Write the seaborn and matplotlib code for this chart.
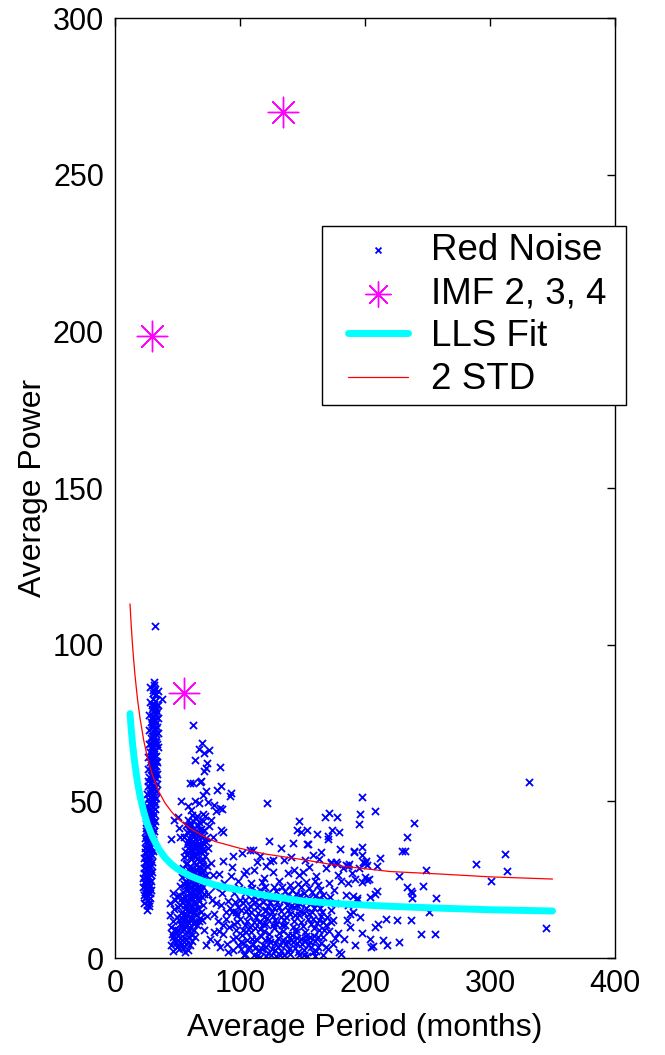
import matplotlib
matplotlib.use("Agg")
import matplotlib.pyplot as plt
import seaborn as sns
import pandas as pd
from matplotlib.lines import Line2D
from matplotlib.legend_handler import HandlerLine2D, HandlerPathCollection

# ---------------- data ----------------
band_pts = [
    (31.2, 88.2), (31.0, 87.0), (32.0, 106.0), (37.3, 82.6),
    (30.4, 84.6), (31.8, 83.8), (30.0, 82.6), (32.2, 82.0), (30.8, 81.0), (31.6, 80.2),
    (29.8, 79.4), (31.2, 78.6), (32.6, 77.8), (30.2, 77.2), (29.4, 76.4), (31.6, 75.8),
    (32.8, 75.0), (30.6, 74.4), (29.2, 73.6), (31.8, 73.0), (30.8, 72.2), (32.4, 71.6),
    (29.6, 71.0), (31.2, 70.4), (30.2, 69.6), (32.8, 69.0), (28.8, 68.6), (31.6, 68.0),
    (30.4, 67.2), (29.4, 66.6), (32.2, 66.0), (30.8, 65.2), (28.6, 64.6), (31.4, 64.0),
    (29.8, 63.4), (32.6, 62.8), (30.4, 62.2), (28.4, 61.6), (31.2, 61.0), (29.6, 60.4),
    (32.0, 59.8), (30.2, 59.0), (28.6, 58.4), (31.2, 57.8), (29.2, 57.2), (30.8, 56.4),
    (27.8, 55.8), (30.0, 55.2), (31.8, 54.6), (28.8, 54.0), (29.8, 53.2), (27.6, 52.6),
    (30.6, 52.0), (28.4, 51.4), (29.6, 50.6), (31.2, 50.0), (27.4, 49.4), (28.8, 48.8),
    (30.2, 48.2), (27.8, 47.4), (29.4, 46.8), (26.8, 46.2), (28.4, 45.6), (30.0, 45.0),
    (27.2, 44.4), (28.8, 43.6), (26.4, 43.0), (28.0, 42.4), (29.6, 41.8), (26.8, 41.0),
    (28.4, 40.4), (25.8, 39.8), (27.4, 39.2), (29.0, 38.6), (26.2, 37.8), (27.8, 37.2),
    (25.4, 36.6), (27.0, 36.0), (28.6, 35.4), (25.8, 34.6), (27.4, 34.0), (24.8, 33.4),
    (26.4, 32.8), (28.0, 32.2), (25.2, 31.4), (26.8, 30.8), (24.6, 30.2), (26.2, 29.6),
    (27.8, 29.0), (25.0, 28.2), (26.6, 27.6), (24.2, 27.0), (25.8, 26.4), (27.4, 25.8),
    (24.8, 25.0), (26.2, 24.4), (23.8, 23.8), (25.4, 23.2), (27.0, 22.6), (24.4, 21.8),
    (26.0, 21.2), (25.0, 20.4), (26.6, 19.8), (24.2, 19.2), (26.0, 18.4), (25.2, 16.8),
    (31.6, 86.0), (30.2, 80.0), (32.4, 79.2), (31.0, 76.0), (29.8, 74.8), (32.2, 73.4),
    (30.4, 70.8), (31.8, 69.4), (29.6, 67.6), (31.0, 66.2), (32.4, 64.6), (29.2, 63.0),
    (30.8, 61.6), (31.8, 58.6), (29.4, 58.0), (30.6, 54.2), (28.2, 53.6), (31.0, 51.4),
    (28.6, 49.8), (29.8, 47.0), (27.6, 45.8), (29.2, 44.8), (27.6, 42.8), (27.2, 40.0),
    (28.2, 38.0), (26.6, 35.2), (28.2, 33.6), (25.6, 32.2), (27.2, 31.0), (25.6, 28.8),
    (27.0, 27.0), (25.2, 25.6), (26.6, 23.6), (24.8, 22.4), (25.8, 21.8), (24.8, 19.6),
    (28.0, 86.4), (34.0, 85.2), (27.8, 81.8), (34.4, 80.6), (27.4, 77.6), (34.6, 76.6),
    (27.2, 72.8), (34.2, 71.8), (27.0, 68.2), (34.0, 67.4), (26.6, 64.0), (33.8, 62.6),
    (26.4, 60.2), (33.6, 58.8), (26.0, 56.6), (33.2, 55.6), (25.6, 52.4), (32.6, 51.2),
    (25.2, 48.6), (32.2, 47.6), (24.8, 44.8), (31.6, 43.8), (24.4, 41.4), (31.0, 40.6),
    (24.0, 38.2), (30.4, 37.0), (23.6, 35.0), (30.0, 34.2), (23.2, 31.8), (29.6, 30.6),
    (22.8, 28.6), (29.2, 27.4), (22.4, 25.4), (28.8, 24.6), (22.2, 22.6), (28.6, 21.6),
    (23.0, 20.2), (28.0, 19.0), (23.4, 17.6), (27.4, 16.6), (25.6, 15.2),
    (30.0, 85.6), (32.8, 84.4), (29.4, 80.8), (33.2, 78.4), (29.0, 75.4), (33.6, 73.8),
    (28.4, 70.2), (33.4, 68.2), (28.0, 65.6), (33.0, 61.4), (27.6, 62.6), (32.8, 57.4),
    (27.2, 57.8), (32.4, 53.4), (26.6, 54.8), (31.8, 49.2), (26.2, 50.6), (31.4, 46.0),
    (25.8, 47.6), (30.8, 42.6), (25.2, 44.0), (30.2, 39.6), (24.8, 40.6), (29.8, 36.6),
    (24.4, 37.2), (29.4, 33.0), (24.0, 33.8), (28.8, 29.8), (23.6, 30.6), (28.4, 26.4),
    (23.2, 27.2), (28.2, 23.2), (23.0, 24.2), (27.6, 20.6), (24.0, 21.0), (26.8, 17.6),
]

mid_upper_pts = [
    (62.4, 74.5), (69.3, 68.5), (67.5, 66.6), (71.0, 65.5), (75.5, 66.4), (64.3, 63.2),
    (73.3, 62.1), (71.2, 59.8), (72.8, 60.5), (84.0, 60.9), (62.1, 55.9), (68.5, 56.5),
    (72.5, 53.4), (70.7, 52.0), (81.9, 53.6), (84.8, 54.9), (92.8, 52.6), (92.3, 51.7),
    (52.5, 50.0), (58.0, 48.5), (64.0, 50.2), (67.5, 49.5), (61.0, 47.2), (74.0, 49.8),
    (79.0, 48.8), (84.0, 47.8), (80.5, 46.8), (85.5, 47.6), (70.0, 45.8), (72.0, 45.2),
    (77.0, 44.2), (51.5, 41.6), (85.0, 41.0), (86.0, 40.2), (50.2, 44.9), (52.0, 38.7),
    (60.0, 55.7), (68.0, 56.3), (47.0, 44.0), (45.0, 38.0), (75.5, 42.0), (78.0, 38.5),
]

mid_core_pts = [
    (58.5, 44.2), (62.0, 43.8), (64.5, 44.6), (67.0, 43.5), (60.0, 42.1), (63.2, 41.6),
    (66.0, 42.4), (69.0, 41.2), (57.5, 40.3), (61.5, 39.8), (64.8, 40.5), (68.0, 39.4),
    (71.0, 40.8), (55.5, 38.6), (59.0, 38.2), (62.6, 37.5), (66.2, 38.8), (69.4, 37.1),
    (72.5, 38.3), (57.2, 36.4), (60.5, 35.8), (64.0, 36.2), (67.4, 35.4), (70.6, 36.7),
    (74.0, 35.2), (56.0, 34.3), (62.0, 34.0), (58.8, 33.6), (65.5, 33.1), (68.8, 33.8),
    (72.0, 32.6), (55.0, 32.2), (61.0, 31.5), (63.8, 32.4), (67.0, 30.9), (70.4, 31.3),
    (57.6, 30.4), (60.0, 29.2), (64.6, 29.8), (68.4, 28.6), (73.2, 29.5), (54.2, 28.8),
    (56.8, 27.5), (59.8, 26.9), (62.8, 27.8), (66.0, 26.3), (69.8, 27.1), (53.6, 26.0),
    (58.2, 25.2), (61.4, 24.6), (64.4, 25.5), (67.6, 24.1), (71.2, 24.9), (55.4, 23.6),
    (60.2, 22.8), (63.0, 23.4), (66.8, 22.3), (52.0, 22.9), (57.0, 22.0), (54.6, 21.2),
    (59.0, 20.6), (62.2, 21.0), (65.4, 20.2), (68.6, 21.5), (51.2, 20.1), (56.2, 19.4),
    (60.6, 18.8), (63.8, 19.6), (67.2, 18.2), (53.4, 17.9), (58.4, 17.2), (61.8, 16.6),
    (65.0, 17.4), (70.0, 16.8), (50.0, 16.3), (55.6, 15.6), (59.6, 15.1), (63.4, 14.8),
    (47.8, 18.6), (52.6, 14.4), (57.2, 13.8), (61.0, 13.1), (64.6, 13.6), (68.0, 12.9),
    (49.4, 13.2), (54.4, 12.4), (58.6, 11.6), (62.4, 11.2), (46.6, 11.8), (51.6, 10.8),
    (56.0, 10.2), (60.0, 9.6), (65.8, 10.4), (48.2, 9.4), (53.2, 8.6), (57.6, 8.2),
    (63.0, 8.8), (45.4, 7.8), (50.4, 7.2), (55.0, 6.4), (59.4, 6.8), (47.2, 5.6),
    (52.2, 5.0), (56.8, 4.4), (44.6, 4.2), (49.6, 3.6), (54.2, 3.2), (58.4, 2.6),
    (46.6, 2.2), (61.6, 5.4),
    (59.6, 43.0), (65.8, 45.2), (61.2, 45.6), (70.2, 43.6), (56.4, 42.6), (67.8, 41.0),
    (59.2, 40.9), (63.0, 39.0), (66.6, 40.0), (70.0, 38.8), (58.0, 37.2), (61.4, 36.8),
    (65.2, 37.2), (68.6, 36.0), (73.0, 37.0), (59.8, 34.6), (63.2, 35.0), (66.6, 34.2),
    (70.0, 34.8), (57.4, 32.8), (60.4, 32.4), (63.0, 30.6), (66.2, 32.0), (69.2, 30.0),
    (71.4, 28.2), (58.6, 28.4), (61.8, 28.8), (65.4, 28.0), (67.4, 27.2), (55.6, 26.6),
    (59.0, 24.0), (62.2, 26.0), (65.0, 23.8), (68.4, 25.6), (70.4, 22.6), (56.4, 24.4),
    (58.6, 21.6), (61.0, 19.6), (63.6, 22.0), (66.2, 21.4), (69.4, 19.4), (53.8, 19.0),
    (57.4, 18.4), (59.8, 16.8), (62.8, 18.0), (66.0, 15.8), (68.8, 14.6), (52.0, 16.8),
    (54.8, 14.2), (58.0, 15.2), (60.6, 12.4), (63.6, 15.6), (66.8, 11.8), (50.8, 12.0),
    (53.4, 10.6), (56.6, 12.6), (59.0, 9.0), (61.8, 7.4), (64.4, 11.8), (49.0, 8.2),
    (51.8, 6.4), (54.4, 9.4), (57.0, 6.0), (46.2, 6.6), (48.6, 4.8), (51.0, 2.8),
    (53.6, 4.6), (55.8, 2.0), (45.0, 9.8), (44.2, 13.6), (47.4, 15.6), (49.8, 19.8),
    (46.0, 20.8), (43.6, 17.4),
    (60.8, 41.0), (64.2, 38.0), (58.2, 35.0), (65.8, 36.0), (62.6, 32.8), (56.6, 30.0),
    (61.6, 27.4), (67.2, 29.0), (57.8, 23.4), (64.0, 21.6), (59.4, 19.0), (55.6, 17.0),
    (62.0, 15.4), (57.8, 10.6), (64.0, 6.8), (52.8, 12.8), (60.2, 4.0), (50.6, 9.0),
    (66.0, 19.0), (68.6, 23.6), (71.6, 34.0), (72.8, 26.6), (70.8, 20.4), (69.6, 12.0),
    (71.4, 9.0),
]

mid_right_pts = [
    (76.5, 30.2), (78.0, 26.4), (80.2, 22.8), (77.4, 18.6), (79.6, 14.2), (82.4, 11.8),
    (78.8, 8.4), (81.6, 5.2), (84.2, 3.4), (86.4, 7.6), (88.6, 12.4), (84.8, 16.8),
    (90.2, 18.2), (87.2, 24.0), (92.6, 26.2), (95.0, 20.6), (93.4, 14.6), (91.0, 9.8),
    (89.2, 4.6), (94.4, 2.4), (96.8, 6.8), (97.6, 11.6), (98.8, 16.2), (83.0, 26.8),
    (74.6, 20.4), (73.8, 13.4), (75.8, 6.2), (72.4, 4.0), (86.0, 30.8), (94.2, 32.6),
    (101.5, 33.4), (104.8, 27.9), (98.7, 24.7), (93.3, 28.9), (110.2, 34.4), (113.3, 30.7),
    (108.0, 34.5),
    (96.6, 14.6), (94.0, 6.0), (92.0, 16.0), (90.0, 1.8), (86.8, 10.4), (83.2, 8.6),
    (81.0, 17.4), (85.6, 20.6), (88.4, 14.8),
]

low_dense_pts = [
    (100.5, 2.8), (104.0, 1.2), (107.6, 3.6), (111.2, 0.8), (114.8, 2.4), (118.4, 4.2),
    (122.0, 1.6), (125.6, 3.0), (129.2, 0.6), (132.8, 2.2), (136.4, 4.4), (140.0, 1.4),
    (143.6, 3.2), (147.2, 0.9), (150.8, 2.6), (154.4, 4.0), (158.0, 1.8), (162.0, 3.4),
    (166.0, 1.0), (170.0, 2.8), (174.0, 4.6), (102.2, 4.8), (116.0, 0.4), (128.0, 4.8),
    (145.4, 4.9), (160.2, 0.5),
    (101.8, 7.2), (105.4, 5.6), (109.0, 8.4), (112.6, 6.2), (116.2, 9.2), (119.8, 5.8),
    (123.4, 7.8), (127.0, 9.6), (130.6, 6.4), (134.2, 8.6), (137.8, 5.4), (141.4, 7.4),
    (145.0, 9.4), (148.6, 6.0), (152.2, 8.2), (155.8, 5.2), (159.4, 7.0), (163.0, 9.0),
    (166.6, 6.6), (171.0, 8.6), (97.0, 8.8),
    (100.2, 12.4), (103.8, 10.6), (107.4, 13.8), (111.0, 11.4), (114.6, 14.4), (118.2, 10.8),
    (121.8, 12.8), (125.4, 14.6), (129.0, 11.0), (132.6, 13.2), (136.2, 10.4), (139.8, 14.0),
    (143.4, 11.8), (147.0, 13.6), (150.6, 10.2), (154.2, 12.6), (157.8, 14.8), (161.4, 11.2),
    (165.0, 13.4), (168.8, 10.6), (104.6, 14.9), (120.0, 14.9),
    (102.6, 17.4), (106.2, 15.6), (109.8, 18.6), (113.4, 16.2), (117.0, 19.4), (120.6, 15.4),
    (124.2, 17.8), (127.8, 19.6), (131.4, 16.4), (135.0, 18.4), (138.6, 15.2), (142.2, 19.0),
    (145.8, 16.8), (149.4, 18.8), (153.0, 15.8), (156.6, 17.6), (160.2, 19.8), (164.0, 16.0),
    (168.0, 18.2), (172.4, 15.4),
    (99.4, 22.2), (104.2, 20.6), (108.8, 23.8), (113.2, 21.2), (117.8, 24.2), (122.4, 20.8),
    (126.8, 22.8), (131.2, 24.6), (135.6, 21.4), (140.0, 23.4), (144.4, 20.4), (148.8, 22.6),
    (153.2, 24.4), (157.6, 21.0), (162.0, 23.2), (166.4, 20.2), (170.8, 24.0), (175.4, 21.8),
    (102.4, 9.0), (106.0, 11.8), (109.6, 6.2), (113.0, 13.2), (116.8, 7.0), (120.4, 11.0),
    (124.0, 5.0), (127.6, 12.2), (131.0, 8.0), (134.8, 12.0), (138.4, 7.2), (142.0, 10.0),
    (145.6, 6.4), (149.2, 11.6), (152.8, 7.0), (156.4, 10.8), (160.0, 5.4), (163.6, 12.0),
    (167.2, 8.8), (100.8, 15.4), (104.4, 18.4), (108.0, 16.6), (111.6, 19.8), (115.2, 17.0),
    (118.8, 13.0), (122.4, 16.6), (126.0, 10.4), (129.6, 17.8), (133.2, 15.0), (136.8, 19.0),
    (140.4, 16.6), (144.0, 13.8), (147.6, 17.2), (151.2, 14.4), (154.8, 19.2), (158.4, 12.4),
    (162.2, 17.6), (165.8, 14.6), (103.0, 0.9), (106.8, 3.0), (110.4, 4.4), (113.8, 0.6),
    (117.4, 2.8), (121.0, 3.6), (124.6, 1.0), (128.2, 2.4), (131.8, 4.0), (135.4, 0.8),
    (139.0, 3.0), (142.6, 5.2), (146.2, 2.0), (149.8, 4.4), (153.4, 0.7), (157.0, 3.4),
    (160.6, 2.2), (164.4, 4.8), (168.4, 3.6), (110.0, 22.4), (115.6, 21.6), (119.6, 22.6),
    (129.0, 21.4), (133.6, 22.8), (138.2, 20.2), (146.6, 23.6), (151.0, 20.8), (155.4, 22.2),
    (160.0, 24.6), (164.2, 21.8), (97.8, 13.6), (96.2, 17.8), (98.4, 4.2), (95.4, 11.0),
    (169.6, 13.0), (173.0, 11.4), (171.8, 19.6), (176.2, 6.4),
    (101.0, 5.2), (104.8, 8.2), (108.4, 10.0), (112.0, 3.2), (115.4, 11.6), (119.0, 8.6),
    (122.8, 6.2), (126.4, 13.4), (130.0, 3.6), (133.8, 10.6), (137.2, 13.0), (140.8, 5.8),
    (144.6, 8.2), (148.0, 15.0), (151.8, 5.6), (155.0, 14.0), (158.8, 9.6), (162.6, 6.6),
    (166.2, 11.6), (105.6, 21.8), (112.2, 17.8), (118.6, 18.0), (125.0, 19.0), (130.2, 19.6),
    (137.4, 16.8), (141.6, 21.6), (148.2, 20.0), (152.4, 18.0), (159.0, 15.8), (163.0, 19.0),
    (100.0, 18.6), (120.8, 0.5), (132.0, 0.9), (138.2, 2.0), (151.2, 0.8), (156.0, 6.8),
    (109.2, 14.6), (127.0, 15.8), (134.4, 5.8), (111.8, 9.6), (142.8, 16.4),
]

low_upper_pts = [
    (103.6, 26.8), (111.4, 28.2), (119.2, 25.4), (126.4, 27.6), (124.3, 30.9), (126.7, 31.4),
    (132.5, 35.2), (135.2, 31.4), (141.0, 32.2), (143.0, 28.0), (147.0, 26.6), (150.4, 27.4),
    (155.0, 29.2), (160.4, 26.2), (163.5, 31.6), (168.6, 28.8), (172.8, 30.5), (177.3, 30.0),
    (178.0, 26.4), (116.0, 32.6), (121.0, 29.4), (138.0, 27.0), (152.0, 31.2), (158.4, 33.0),
    (142.7, 36.6), (154.7, 36.4), (123.0, 37.3), (165.2, 33.8), (172.5, 30.2), (176.5, 30.5),
    (184.5, 29.7), (187.5, 30.0),
    (121.9, 49.4), (147.5, 43.7), (145.3, 40.9), (148.5, 40.1), (153.6, 40.9), (161.9, 39.5),
    (153.9, 36.3), (171.5, 46.4), (168.0, 44.9), (177.3, 45.1), (173.6, 40.9), (170.4, 38.9),
    (179.2, 40.1), (170.7, 38.0), (180.3, 34.9),
]

far_pts = [
    (196.3, 45.9), (195.5, 42.9), (197.6, 51.3), (207.7, 46.9), (239.5, 43.2), (191.2, 33.9),
    (197.6, 35.5), (197.8, 32.9), (200.8, 30.9), (200.3, 30.2), (212.3, 31.8), (209.3, 29.5),
    (233.3, 38.7), (229.6, 34.0), (232.3, 34.2), (227.2, 26.2), (248.8, 28.0), (289.0, 30.1),
    (312.0, 33.3), (313.3, 27.7), (300.5, 24.6), (257.0, 19.2), (251.0, 14.7), (246.4, 23.1),
    (233.6, 22.7), (237.6, 20.6), (237.6, 19.0), (236.8, 21.4), (209.3, 21.5), (208.2, 20.4),
    (203.0, 25.1), (237.0, 12.1), (225.9, 12.1), (217.0, 12.4), (210.7, 10.7), (208.3, 9.8),
    (244.8, 7.6), (256.0, 7.8), (227.0, 5.0), (217.9, 4.0), (214.1, 5.9), (204.3, 6.2),
    (204.8, 3.4), (206.7, 3.8), (344.5, 9.7), (330.9, 56.1), (180.8, 1.2), (188.0, 9.8),
    (185.3, 12.1), (196.0, 13.2), (188.0, 14.0), (190.7, 14.8), (181.0, 24.5), (186.0, 24.0),
    (192.0, 25.2), (198.0, 24.2), (202.0, 24.8), (185.0, 20.2), (190.0, 19.8), (204.0, 19.6),
    (183.0, 6.0), (192.0, 4.2), (198.0, 8.0), (186.0, 17.0), (194.0, 18.4), (182.0, 28.6),
    (189.5, 27.2), (195.0, 28.8), (201.8, 29.6), (193.8, 19.3), (200.0, 26.0), (191.0, 34.1),
    (198.6, 30.7), (186.6, 29.5), (174.0, 12.0), (178.0, 8.0), (176.0, 17.6), (179.0, 2.0),
]

imf_period = [29.6, 134.4, 55.2]
imf_power = [198.5, 270.0, 84.6]

fit_period = [12, 13, 14, 15, 16, 18, 20, 23, 26, 30, 35, 40, 45, 50, 60, 70, 80,
              100, 120, 150, 180, 220, 260, 300, 350]
lls_fit = [78.0, 72.9, 68.6, 64.9, 61.6, 56.1, 51.7, 46.6, 42.6, 38.6, 34.8, 32.0,
           30.0, 28.4, 26.2, 24.6, 23.3, 21.6, 20.0, 18.2, 17.3, 16.5, 15.9, 15.4, 15.0]
std2_fit = [113.0, 106.0, 100.0, 94.8, 90.2, 82.6, 76.6, 69.4, 63.9, 58.3, 53.1, 49.5,
            46.8, 44.5, 41.4, 39.0, 37.2, 35.0, 33.2, 31.4, 29.4, 27.6, 26.8, 25.9, 25.2]

x_ticks = [0, 100, 200, 300, 400]
y_ticks = [0, 50, 100, 150, 200, 250, 300]

# ---------------- plotting ----------------
sns.set_style("white")
plt.rcParams["font.family"] = ["Liberation Sans", "DejaVu Sans"]
plt.rcParams.update({"text.color": "black", "axes.labelcolor": "black",
                     "xtick.color": "black", "ytick.color": "black"})

all_pts = (band_pts + mid_upper_pts + mid_core_pts + mid_right_pts
           + low_dense_pts + low_upper_pts + far_pts)
noise = pd.DataFrame(all_pts, columns=["period", "power"])

fig = plt.figure(figsize=(6.65, 10.55), dpi=100)
ax = fig.add_axes([115 / 665, 97 / 1055, 500 / 665, 940 / 1055])

sns.scatterplot(data=noise, x="period", y="power", marker="x", s=26, color="#0000ff",
                linewidth=1.3, ax=ax, label="Red Noise", zorder=2)
sns.scatterplot(x=imf_period, y=imf_power, marker=(8, 2, 0), s=480, color="#ff00ff",
                edgecolor="#ff00ff", linewidth=1.0, ax=ax, label="IMF 2, 3, 4", zorder=3)
sns.lineplot(x=fit_period, y=lls_fit, color="#00ffff", linewidth=5, ax=ax,
             label="LLS Fit", sort=False, estimator=None, zorder=4)
sns.lineplot(x=fit_period, y=std2_fit, color="#ff0000", linewidth=0.9, ax=ax,
             label="2 STD", sort=False, estimator=None, zorder=5)

ax.set_xlim(0, 400)
ax.set_ylim(0, 300)
ax.set_xticks(x_ticks)
ax.set_yticks(y_ticks)
ax.tick_params(direction="in", length=6, width=1, top=True, right=True,
               labelsize=22, pad=8, colors="black")
for sp in ax.spines.values():
    sp.set_visible(True)
    sp.set_color("black")
    sp.set_linewidth(1.0)

ax.set_xlabel("Average Period (months)", fontsize=23, labelpad=10)
ax.set_ylabel("Average Power", fontsize=23, labelpad=3)

handles, labels = ax.get_legend_handles_labels()
order = ["Red Noise", "IMF 2, 3, 4", "LLS Fit", "2 STD"]
hmap = dict(zip(labels, handles))
hmaps = {Line2D: HandlerLine2D(xpad=0.5),
         hmap["Red Noise"]: HandlerPathCollection(xpad=0.5, sizes=[18]),
         hmap["IMF 2, 3, 4"]: HandlerPathCollection(xpad=0.5, sizes=[330])}
leg = ax.legend([hmap[k] for k in order], order, loc="upper left",
                bbox_to_anchor=(0.414, 0.588, 0.608, 0.191), mode="expand",
                frameon=True, fancybox=False, edgecolor="black", framealpha=1,
                fontsize=26.5, handlelength=2.14, handletextpad=0.62,
                borderpad=0.2, labelspacing=0.22, borderaxespad=0,
                handler_map=hmaps)
leg.get_frame().set_linewidth(1.0)

fig.savefig("out.png", dpi=100)
